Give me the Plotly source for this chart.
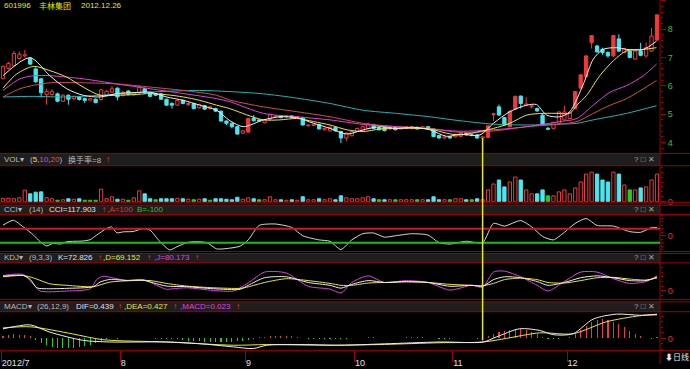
import plotly.graph_objects as go

# ---------------- data ----------------
stock_code = "601996"
stock_name = "丰林集团"
stock_date = "2012.12.26"

opens = [6.27,6.62,6.71,6.97,7.06,6.98,6.60,6.25,5.69,5.70,
         5.72,5.46,5.67,5.55,5.61,5.55,5.50,5.53,5.52,5.67,
         5.78,5.92,5.67,5.82,5.69,5.76,5.90,5.75,5.72,5.72,
         5.53,5.38,5.32,5.49,5.34,5.38,5.23,5.30,5.20,5.20,
         5.11,4.76,4.68,4.56,4.33,4.37,4.85,4.80,4.70,4.82,
         4.91,4.94,4.90,4.94,4.88,4.88,4.59,4.60,4.64,4.45,
         4.41,4.53,4.39,4.16,4.24,4.39,4.41,4.50,4.64,4.53,
         4.53,4.48,4.53,4.48,4.50,4.50,4.54,4.50,4.56,4.48,
         4.25,4.16,4.21,4.20,4.22,4.33,4.27,4.27,4.16,4.18,
         4.99,5.26,4.88,4.56,5.18,5.64,5.32,5.27,5.20,4.97,
         4.50,4.50,4.68,4.80,4.85,5.20,5.92,6.33,7.53,7.41,
         7.29,7.18,7.06,7.66,7.18,7.23,6.95,7.24,7.06,7.23,
         7.62]
highs = [6.72,6.85,7.24,7.22,7.27,7.02,6.65,6.28,5.90,5.88,
         5.76,5.70,5.70,5.66,5.64,5.58,5.58,5.56,5.90,5.85,
         6.00,5.95,5.82,5.85,5.80,6.02,5.93,5.78,5.75,5.75,
         5.55,5.42,5.52,5.52,5.42,5.40,5.37,5.33,5.30,5.23,
         5.13,4.78,4.70,4.58,4.45,4.87,4.97,4.82,4.82,5.03,
         4.97,4.96,4.96,4.96,4.94,4.92,4.65,4.67,4.66,4.52,
         4.57,4.55,4.42,4.36,4.41,4.52,4.59,4.70,4.66,4.55,
         4.55,4.55,4.55,4.56,4.58,4.58,4.56,4.58,4.58,4.50,
         4.27,4.22,4.23,4.31,4.35,4.35,4.30,4.29,4.22,4.61,
         5.05,5.34,4.90,5.13,5.66,5.66,5.60,5.32,5.24,5.00,
         4.55,4.73,5.10,5.30,5.10,5.82,6.42,7.08,7.80,7.45,
         7.35,7.22,7.80,7.82,7.35,7.26,7.26,7.52,7.53,8.05,
         8.51]
lows = [6.22,6.58,6.68,6.93,7.00,6.75,6.10,5.60,5.34,5.65,
        5.42,5.43,5.34,5.50,5.48,5.40,5.48,5.39,5.48,5.63,
        5.75,5.49,5.62,5.67,5.66,5.72,5.73,5.60,5.64,5.50,
        5.30,5.20,5.30,5.35,5.30,5.17,5.20,5.15,5.17,5.08,
        4.73,4.62,4.50,4.28,4.30,4.35,4.74,4.74,4.68,4.80,
        4.90,4.86,4.88,4.86,4.86,4.60,4.57,4.58,4.46,4.43,
        4.40,4.39,3.98,4.06,4.22,4.37,4.40,4.48,4.48,4.43,
        4.40,4.46,4.43,4.46,4.48,4.48,4.46,4.48,4.48,4.19,
        4.14,4.14,4.14,4.18,4.20,4.25,4.22,4.14,4.10,4.16,
        4.76,4.95,4.60,4.54,5.16,5.20,5.30,5.20,5.08,4.58,
        4.44,4.48,4.66,4.78,4.83,5.18,5.90,6.30,7.32,7.18,
        7.10,7.00,7.02,7.20,7.15,6.98,6.93,7.05,7.00,7.20,
        7.60]
closes = [6.69,6.79,7.15,7.12,7.10,6.77,6.15,5.76,5.81,5.81,
          5.46,5.67,5.53,5.63,5.52,5.49,5.55,5.41,5.86,5.81,
          5.90,5.61,5.78,5.70,5.76,5.96,5.76,5.63,5.67,5.53,
          5.32,5.32,5.49,5.38,5.38,5.20,5.34,5.18,5.26,5.11,
          4.76,4.68,4.56,4.30,4.41,4.85,4.77,4.76,4.80,4.99,
          4.94,4.88,4.94,4.89,4.92,4.62,4.62,4.65,4.48,4.50,
          4.54,4.41,4.16,4.33,4.39,4.50,4.56,4.64,4.50,4.45,
          4.42,4.53,4.45,4.54,4.56,4.56,4.48,4.56,4.50,4.21,
          4.16,4.20,4.16,4.29,4.33,4.27,4.25,4.16,4.20,4.59,
          5.02,4.97,4.62,5.11,5.63,5.38,5.36,5.30,5.12,4.62,
          4.47,4.71,5.08,5.08,5.06,5.80,6.39,7.06,7.78,7.20,
          7.18,7.06,7.78,7.23,7.32,7.00,7.23,7.08,7.35,7.76,
          8.51]
solid_up_days = [45, 89, 93, 94, 105, 106, 107, 108, 112, 120]

volume = [3.5,3.5,3,4,11.7,8,9.7,10,4,3,
          1.5,2,3,2.5,3,1.5,1.5,1.5,12.7,3,
          5,2.5,2.5,1.5,4,11,8,3,2,3,
          3,3,3.5,3,2.5,2,2.5,3,1.5,3,
          3,2.5,2,4.5,2.5,4,3,2,2,5,
          2,2,1.5,2,1.5,5,2,2,3,2,
          3,2,6,4,3,3,4,5,3,2,
          2,2,2,2,2,2,2,2,2,5,
          2,2,2,3,3,2,2,3,2,12,
          18,22,15,20,25,22,12,8,8,12,
          6,6,10,12,8,14,20,28,30,28,
          22,20,30,28,17,12,12,14,15,22,
          28]
vol_green_days = [10, 15, 16, 17, 23, 28, 35, 38, 47, 69, 72, 76, 82, 86, 100, 115]

ma5_day = [0,4.95,8.6,11.7,14.7,17.8,20.9,23.9,27,30,33.1,36.1,39.2,41.65,44.1,47.8,50.8,53.9,57,60,
           63.1,66.1,69.2,72.2,75.3,78.3,81.4,83.85,87.5,90,93,96.1,97.9,99.75,102.2,104,106.5,108.3,110.1,112.6,
           114.4,117.5,119.9]
ma5_val = [6.36,7.00,6.36,5.90,5.67,5.61,5.73,5.76,5.78,5.61,5.49,5.32,5.14,4.77,4.56,4.80,4.91,4.88,4.68,4.50,
           4.30,4.45,4.56,4.50,4.54,4.45,4.22,4.29,4.27,4.68,5.09,5.32,5.34,4.97,4.91,5.09,6.07,6.94,7.29,7.35,
           7.29,7.29,7.58]
ma10_day = [0,2.5,5.6,8.6,11.7,14.7,17.8,20.9,23.9,27,30,33.1,36.1,39.2,41.6,44.7,47.8,50.8,53.9,57,
            60,63.1,66.1,69.2,72.2,75.3,78.3,81.4,83.85,90,93,96.1,99.1,102.2,104,105.3,107.1,109.5,112,114.4,
            117.5,119.9]
ma10_val = [5.92,6.42,6.69,6.54,6.31,5.96,5.67,5.67,5.69,5.73,5.69,5.61,5.49,5.32,5.20,4.98,4.80,4.80,4.85,4.74,
            4.62,4.45,4.39,4.48,4.50,4.50,4.48,4.33,4.27,4.50,4.68,4.97,5.03,5.03,5.03,5.32,5.67,6.36,6.89,7.24,
            7.29,7.35]
ma20_day = [0,3.1,5.6,8.6,14.7,20.9,27,33.1,39.2,41.65,47.8,53.9,60,66.1,72.2,78.3,83.85,90,96.1,102.2,
            105.3,108.3,111.4,114.4,117.5,119.9]
ma20_val = [5.84,6.25,6.36,6.36,6.25,6.07,5.90,5.73,5.55,5.44,5.03,4.91,4.80,4.64,4.56,4.48,4.40,4.45,4.56,4.74,
            4.85,5.32,5.78,6.01,6.36,6.77]
ma30_day = [0,3.1,5.6,8.6,14.7,20.9,27,33.1,39.2,41.65,47.8,53.9,60,66.1,72.2,78.3,83.85,90,96.1,102.2,
            105.3,108.3,111.4,114.4,119.9]
ma30_val = [5.61,5.90,6.02,6.11,6.11,6.07,5.96,5.84,5.67,5.50,5.26,5.09,4.91,4.68,4.56,4.50,4.36,4.41,4.56,4.65,
            4.74,5.03,5.32,5.55,6.19]
ma60_day = [0,5.6,11.7,17.8,23.9,30,36.1,41.65,47.8,53.9,60,66.1,72.2,78.3,83.85,90,96.1,102.2,105.3,108.3,
            114.4,119.9]
ma60_val = [5.61,5.63,5.61,5.67,5.75,5.81,5.84,5.80,5.72,5.57,5.38,5.14,5.03,4.91,4.77,4.65,4.62,4.65,4.68,4.80,
            5.03,5.30]

cci_day = [0,1.9,3.7,5.6,6.8,8,9.2,10.5,11.7,14.7,16,17.2,19,19.9,20.9,22.1,23.9,25.7,27,28.8,
           30.6,31.9,33.7,34.9,37.4,39.2,41.6,43.5,45,47,50,53,55,58,60,62,64,66,68,70,
           72,75,78,80,82,85,88,90,92,95,97,99,101,103,105,107,109,112,115,117,119,120]
cci_val = [153,224,129,10,-86,-147,-110,-120,-86,-76,-57,10,105,129,43,57,62,105,80,-86,
           -205,-160,-100,-86,-100,-190,-180,-150,-60,150,170,120,0,-60,-80,-200,-60,30,40,-20,
           0,30,10,-100,-120,-80,-100,180,140,220,130,-10,-60,50,180,250,150,140,60,50,120,118]

kdj_k_day = [0,3.7,5,6.2,8,11.7,16.6,17.8,19.6,22.7,25.7,27.6,30,33.7,38.6,43.5,45,48,52,56,
             60,62,64,67,70,74,78,82,86,88,90,92,95,98,100,103,106,109,112,115,118,120]
kdj_k_val = [78,82,61,17,12,14,23,47,61,56,57,43,26,23,12,9,30,70,75,45,
             30,15,35,55,45,50,45,25,30,25,60,75,70,50,30,45,70,80,70,55,55,72.8]
kdj_d_day = [0,3.7,5.6,8.6,11.7,16.6,19.6,23.9,27,30,33.7,38.6,43.5,45,48,52,56,60,62,64,
             67,70,74,78,82,86,88,90,92,95,98,100,103,106,109,112,115,118,120]
kdj_d_val = [75,82,69,38,30,23,47,55,55,40,26,17,14,22,45,65,55,40,30,30,
             42,45,48,45,35,30,28,40,60,68,60,45,42,55,70,72,63,58,69.2]
kdj_j_day = [0,3.7,5.6,6.8,11.7,16,17.2,18.3,20.2,22.7,25.7,28.2,30,31.2,33.7,38.6,42.3,45,48,52,
             56,60,62,64,67,70,74,78,82,86,88,90,92,95,98,100,103,106,109,112,115,118,120]
kdj_j_val = [82,87,35,0,0,12,61,78,69,55,61,30,9,12,17,3,0,43,100,95,
             25,10,-10,45,80,45,55,45,5,30,20,100,105,75,30,0,50,100,100,65,40,50,80.2]

dif_day = [0,2.5,5,8.6,14.7,19.6,30,36,42.3,45.9,48.4,54.5,61.8,70,80.2,88.1,90.5,94.8,98.5,101,
           104.6,108.3,112.6,116.8,120]
dif_val = [0.174,0.22,0.245,0.113,-0.036,-0.066,-0.066,-0.096,-0.155,-0.185,-0.125,-0.113,-0.125,-0.10,-0.066,
           -0.066,0.024,0.174,0.143,0.066,0.084,0.35,0.44,0.42,0.439]
dea_day = [0,5,12.8,18.3,30,42.3,48.4,60.6,70,80,88.1,92.4,98.5,104.6,110.7,116.8,120]
dea_val = [0.19,0.21,0.08,-0.024,-0.066,-0.125,-0.113,-0.125,-0.11,-0.08,-0.066,0.0,0.10,0.084,0.30,0.41,0.427]
macd_hist = [0.05,0.06,0.07,0.06,0.06,0.04,
             -0.03,-0.08,-0.12,-0.15,-0.17,-0.18,-0.18,-0.17,-0.16,-0.14,-0.12,-0.09,-0.05,-0.02,
             0.005,-0.005,0.01,0.01,0.015,0.015,0.01,0.005,-0.005,-0.01,-0.01,-0.015,-0.02,
             -0.03,-0.04,-0.05,-0.05,-0.06,-0.06,-0.06,-0.065,-0.07,-0.06,-0.05,-0.04,-0.03,-0.02,
             0.02,0.03,0.04,0.05,0.05,0.04,0.04,0.03,
             0.01,-0.01,-0.01,-0.015,-0.01,-0.01,
             -0.01,-0.02,-0.01,0.005,0.01,0.015,0.02,0.02,0.015,0.01,0.01,0.01,0.015,0.02,0.02,0.02,0.02,
             0.015,0.005,-0.005,-0.005,-0.005,0.0,0.005,0.005,0.005,-0.005,-0.005,
             0.05,0.07,0.11,0.14,0.16,0.17,0.17,0.15,0.12,0.08,0.03,-0.01,-0.01,-0.01,0.01,0.02,
             0.08,0.15,0.23,0.30,0.34,0.35,0.33,0.30,0.26,0.20,0.14,0.08,0.04,0.01,-0.01,0.02]

month_start_day = [-0.3, 21.5, 44.5, 64.5, 82.5, 103.5]
month_labels = ["2012/7", "8", "9", "10", "11", "12"]
cursor_day = 88

n = len(closes)
for arr in (opens, highs, lows, volume, macd_hist):
    assert len(arr) == n, len(arr)

# ---------------- style / layout helpers ----------------
W, H = 690.0, 369.0
PLOT_RIGHT = 660.0 / W
FONT = "Liberation Sans, Arial, Noto Sans CJK SC, sans-serif"
RED = "#f03a3a"
CYAN = "#48e8f0"
GREEN = "#22d022"
AXRED = "#a00000"
WHITE = "#eeeeee"
YELLOW = "#e8e832"
MAGENTA = "#e040e0"
SALMON = "#d05048"
TEAL = "#20b4b4"
GRAY = "#b8b8b8"


def band(top_px, bottom_px):
    return [1 - bottom_px / H, 1 - top_px / H]


def py(p):
    return 1 - p / H


def px(p):
    return p / W


X_RANGE = [-0.55, n - 0.45]

fig = go.Figure()

# ---------------- candles ----------------
up_hollow = [i for i in range(n) if closes[i] >= opens[i] and i not in solid_up_days]
up_solid = [i for i in range(n) if closes[i] >= opens[i] and i in solid_up_days]
down = [i for i in range(n) if closes[i] < opens[i]]


def wick_xy(idx):
    xs, ys = [], []
    for i in idx:
        top, bot = max(opens[i], closes[i]), min(opens[i], closes[i])
        xs += [i, i, None, i, i, None]
        ys += [highs[i], top, None, bot, lows[i], None]
    return xs, ys


for idx, col in ((up_hollow + up_solid, RED), (down, CYAN)):
    wx, wy = wick_xy(idx)
    fig.add_trace(go.Scatter(x=wx, y=wy, mode="lines", line=dict(color=col, width=1),
                             xaxis="x", yaxis="y", hoverinfo="skip"))

for idx, fill, col in ((up_hollow, "#000000", RED), (up_solid, RED, RED), (down, CYAN, CYAN)):
    fig.add_trace(go.Bar(
        x=idx,
        y=[max(abs(closes[i] - opens[i]), 0.02) for i in idx],
        base=[min(opens[i], closes[i]) for i in idx],
        width=0.6, marker=dict(color=fill, line=dict(color=col, width=1)),
        xaxis="x", yaxis="y", hoverinfo="skip"))

for d, v, col in ((ma60_day, ma60_val, TEAL), (ma30_day, ma30_val, SALMON), (ma20_day, ma20_val, MAGENTA),
                  (ma10_day, ma10_val, YELLOW), (ma5_day, ma5_val, WHITE)):
    fig.add_trace(go.Scatter(x=d, y=v, mode="lines", line=dict(color=col, width=1, shape="spline", smoothing=0.8),
                             xaxis="x", yaxis="y", hoverinfo="skip"))

# ---------------- volume ----------------
v_green = [i for i in range(n) if i in vol_green_days]
v_up = [i for i in range(n) if closes[i] >= opens[i] and i not in vol_green_days]
v_down = [i for i in range(n) if closes[i] < opens[i] and i not in vol_green_days]
for idx, fill, col in ((v_up, "#000000", RED), (v_down, CYAN, CYAN), (v_green, GREEN, GREEN)):
    fig.add_trace(go.Bar(x=idx, y=[volume[i] for i in idx], width=0.6,
                         marker=dict(color=fill, line=dict(color=col, width=1)),
                         xaxis="x", yaxis="y2", hoverinfo="skip"))

# ---------------- CCI ----------------
fig.add_trace(go.Scatter(x=cci_day, y=cci_val, mode="lines",
                         line=dict(color="#d8d8d8", width=1, shape="spline", smoothing=0.6),
                         xaxis="x", yaxis="y3", hoverinfo="skip"))

# ---------------- KDJ ----------------
for d, v, col in ((kdj_j_day, kdj_j_val, MAGENTA), (kdj_d_day, kdj_d_val, YELLOW), (kdj_k_day, kdj_k_val, WHITE)):
    fig.add_trace(go.Scatter(x=d, y=v, mode="lines", line=dict(color=col, width=1, shape="spline", smoothing=0.7),
                             xaxis="x", yaxis="y4", hoverinfo="skip"))

# ---------------- MACD ----------------
fig.add_trace(go.Bar(x=list(range(n)), y=macd_hist, width=0.2,
                     marker=dict(color=[RED if v >= 0 else GREEN for v in macd_hist], line=dict(width=0)),
                     xaxis="x", yaxis="y5", hoverinfo="skip"))
for d, v, col in ((dea_day, dea_val, YELLOW), (dif_day, dif_val, WHITE)):
    fig.add_trace(go.Scatter(x=d, y=v, mode="lines", line=dict(color=col, width=1, shape="spline", smoothing=0.8),
                             xaxis="x", yaxis="y5", hoverinfo="skip"))

# dummy for the date strip axes
fig.add_trace(go.Scatter(x=[None], y=[None], xaxis="x2", yaxis="y6", hoverinfo="skip"))


def yax(domain, rng, tickvals, ticktext, color, minor_dtick):
    return dict(domain=domain, range=rng, anchor="x", side="right", showgrid=False, zeroline=False,
                showline=False, ticks="outside", ticklen=5, tickwidth=1, tickcolor=AXRED,
                tickmode="array", tickvals=tickvals, ticktext=ticktext,
                tickfont=dict(color=color, size=9, family=FONT),
                minor=dict(ticks="outside", ticklen=2, tickcolor=AXRED, dtick=minor_dtick, showgrid=False),
                fixedrange=True)


price_ticks = [4, 5, 6, 7, 8, 9]
layout = dict(
    width=690, height=369, autosize=False,
    margin=dict(l=0, r=0, t=0, b=0, pad=0),
    paper_bgcolor="#000000", plot_bgcolor="rgba(0,0,0,0)",
    showlegend=False, barmode="overlay", bargap=0,
    xaxis=dict(domain=[0, PLOT_RIGHT], range=X_RANGE, visible=False, anchor="y", fixedrange=True),
    xaxis2=dict(domain=[0, PLOT_RIGHT], range=X_RANGE, anchor="y6", side="top", showgrid=False,
                zeroline=False, showline=False, ticks="inside", ticklen=11, tickwidth=1, tickcolor=AXRED,
                tickmode="array", tickvals=month_start_day, ticktext=month_labels,
                ticklabelposition="inside right", ticklabelstandoff=3,
                tickfont=dict(color="#e0e0e0", size=9, family=FONT),
                fixedrange=True),
    yaxis=yax(band(0, 155), [9 - 154 / 28.7, 9 + 1 / 28.7], price_ticks, [str(t) for t in price_ticks],
              "#22c822", 0.2),
    yaxis2=yax(band(168, 204.5), [0, 36.5], [0], ["0"], "#e03030", 5),
    yaxis3=yax(band(217.5, 254.5), [-(254.5 - 239) / 7 * 100, (239 - 217.5) / 7 * 100], [0], ["0"],
               "#e03030", 50),
    yaxis4=yax(band(266.5, 303), [-(303 - 295) / 0.192, (295 - 266.5) / 0.192], [0], ["0"], "#e03030", 25),
    yaxis5=yax(band(316, 355.5), [-(355.5 - 343) / 55.8, (343 - 316) / 55.8], [0], ["0"], "#e03030", 0.1),
    yaxis6=dict(domain=band(355.5, 369), range=[0, 1], visible=False, anchor="x2", fixedrange=True),
)
fig.update_layout(**layout)

shapes = []
# header bands
headers = [(156, 168), (208, 217.5), (257, 266.5), (306, 316)]
for top, bot in headers:
    shapes.append(dict(type="rect", xref="paper", yref="paper", x0=0, x1=PLOT_RIGHT, y0=py(bot), y1=py(top),
                       fillcolor="#1e1e1e", line=dict(width=0), layer="below"))
# horizontal red frame lines
for yline in (155.5, 168, 205.5, 208, 217.5, 255, 257, 266.5, 303.5, 306, 316, 355.5):
    shapes.append(dict(type="line", xref="paper", yref="paper", x0=0, x1=1, y0=py(yline), y1=py(yline),
                       line=dict(color=AXRED, width=1)))
# right vertical axis line
shapes.append(dict(type="line", xref="paper", yref="paper", x0=PLOT_RIGHT, x1=PLOT_RIGHT, y0=0, y1=1,
                   line=dict(color=AXRED, width=1)))
# CCI +/-100 lines
shapes.append(dict(type="line", xref="x", yref="y3", x0=X_RANGE[0], x1=X_RANGE[1], y0=100, y1=100,
                   line=dict(color="#d01818", width=2)))
shapes.append(dict(type="line", xref="x", yref="y3", x0=X_RANGE[0], x1=X_RANGE[1], y0=-100, y1=-100,
                   line=dict(color="#18c018", width=2)))
# cursor
shapes.append(dict(type="line", xref="x", yref="paper", x0=cursor_day, x1=cursor_day, y0=py(345),
                   y1=py(140), line=dict(color="#e8e830", width=1.5)))
fig.update_layout(shapes=shapes)

ann = []


def label(x_px, y_px, text, color, size=8, anchor="left"):
    ann.append(dict(x=px(x_px), y=py(y_px), xref="paper", yref="paper", text=text, showarrow=False,
                    xanchor=anchor, yanchor="middle", font=dict(color=color, size=size, family=FONT)))


def span(t, c):
    return '<span style="color:%s">%s</span>' % (c, t)


label(2, 6, stock_code, "#e8e800", 8)
label(37, 6, stock_name, "#e8e800", 8)
label(79, 6, stock_date, "#e8e800", 8)

label(2, 162, "VOL▾", GRAY)
label(28, 162, span("(", GRAY) + span("5", YELLOW) + span(",", GRAY) + span("10", MAGENTA) + span(",", GRAY)
      + span("20", "#e05050") + span(")", GRAY), GRAY)
label(66, 162, "换手率=8", GRAY)
label(104, 162, "↑", "#ff3030")

label(2, 212.5, "CCI▾", GRAY)
label(27, 212.5, "(14)", GRAY)
label(47, 212.5, "CCI=117.903", "#e0e0e0")
label(100, 212.5, "↑", "#ff3030")
label(105, 212.5, ",A=100", "#e03030")
label(135, 212.5, "B=-100", "#22c822")

label(2, 261.5, "KDJ▾", GRAY)
label(27, 261.5, "(9,3,3)", GRAY)
label(56, 261.5, "K=72.826", "#e0e0e0")
label(96, 261.5, "↑", "#ff3030")
label(101, 261.5, ",D=69.152", YELLOW)
label(145, 261.5, "↑", "#ff3030")
label(152, 261.5, ",J=80.173", MAGENTA)
label(193, 261.5, "↑", "#ff3030")

label(2, 311, "MACD▾", GRAY)
label(35, 311, "(26,12,9)", GRAY)
label(74, 311, "DIF=0.439", "#e0e0e0")
label(116, 311, "↑", "#ff3030")
label(122, 311, ",DEA=0.427", YELLOW)
label(171, 311, "↑", "#ff3030")
label(178, 311, ",MACD=0.023", MAGENTA)
label(234, 311, "↑", "#ff3030")

for ymid in (162, 212.5, 261.5, 311):
    label(657, ymid, "? □ ✕", "#a0a0a0", 8, "right")

label(663, 362, "⬇日线", "#e8e8e8", 8)

fig.update_layout(annotations=ann)
fig.write_html("out.html",
               config={"displayModeBar": False, "staticPlot": True},
               post_script="document.documentElement.style.margin='0';document.body.style.margin='0';"
                           "document.body.style.padding='0';document.body.style.background='#000';"
                           "document.body.style.overflow='hidden';")
